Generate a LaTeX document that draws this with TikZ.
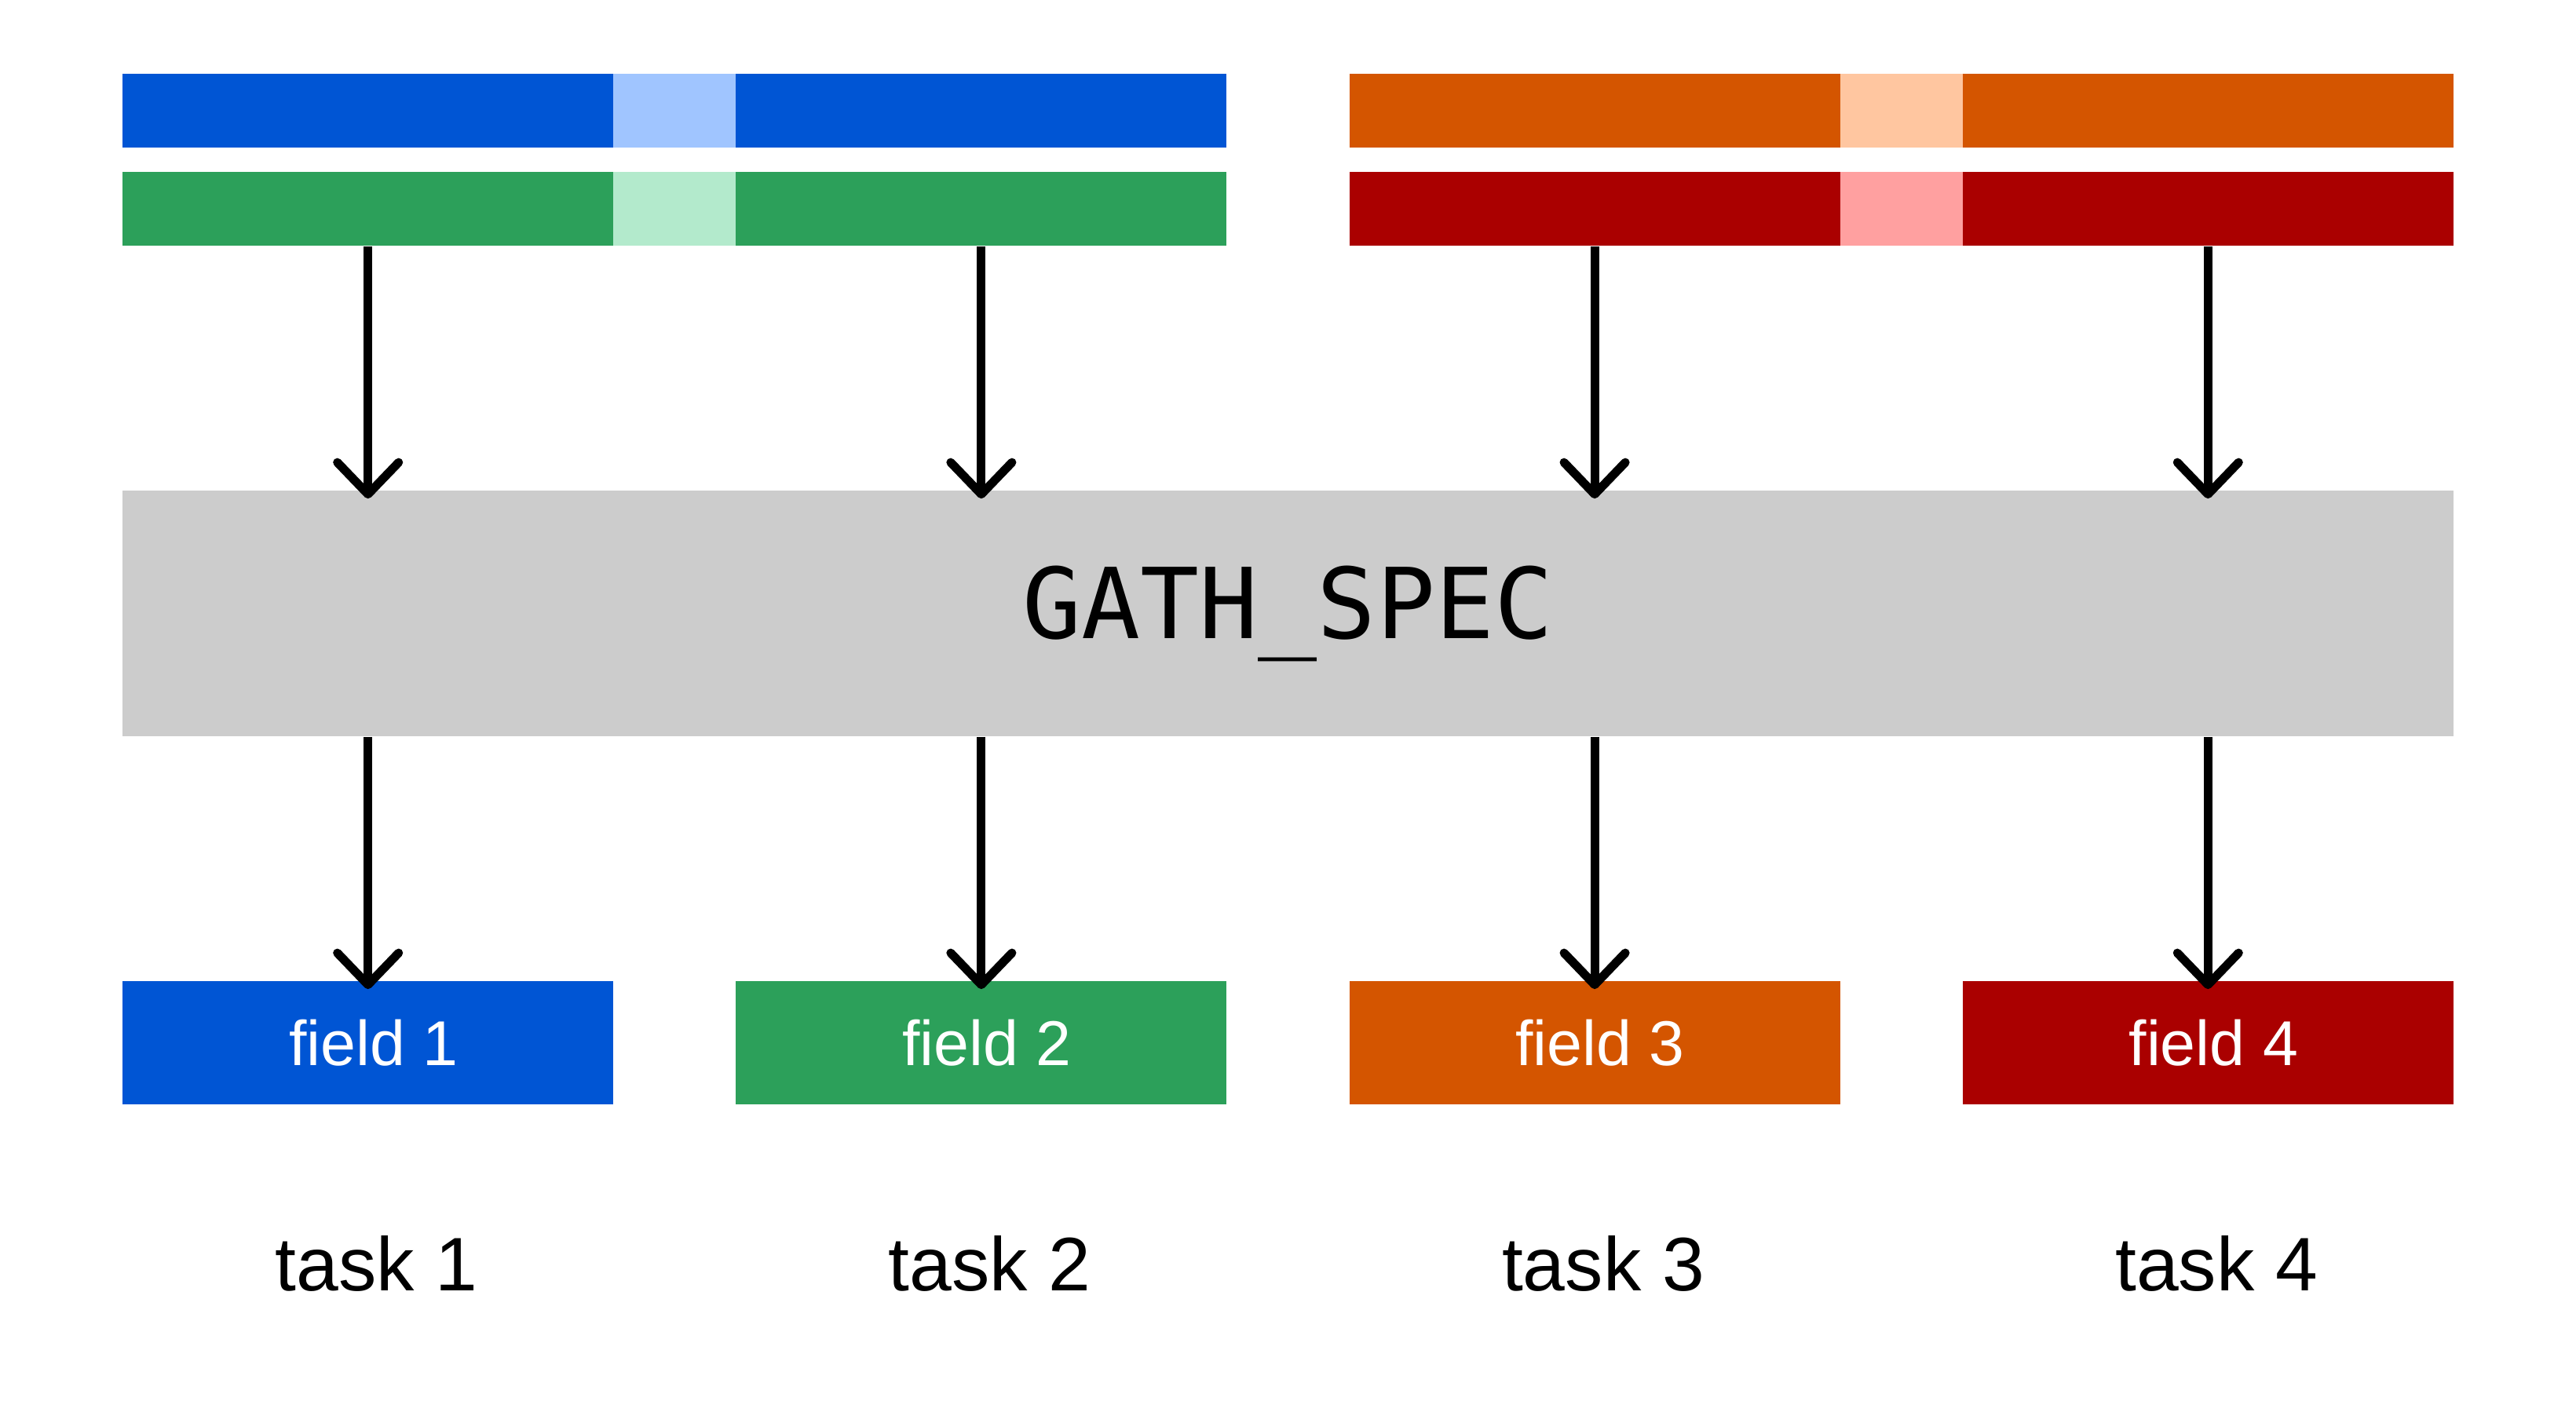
\documentclass[tikz,border=0pt]{standalone}
\usepackage{fontspec}
\setmainfont{Liberation Sans}
\setmonofont{DejaVu Sans Mono}
\usetikzlibrary{arrows.meta}

\definecolor{fblue}{HTML}{0055D4}
\definecolor{fbluelight}{HTML}{A0C5FF}
\definecolor{fgreen}{HTML}{2CA05A}
\definecolor{fgreenlight}{HTML}{B3EACC}
\definecolor{forange}{HTML}{D45500}
\definecolor{forangelight}{HTML}{FFC6A0}
\definecolor{fred}{HTML}{AA0000}
\definecolor{fredlight}{HTML}{FFA0A0}
\definecolor{specgray}{HTML}{CCCCCC}

\begin{document}
\begin{tikzpicture}
    % Define node styles
    \tikzstyle{segnode}=[rectangle, inner sep=0pt, minimum width=4cm, minimum height=0.6cm]
    \tikzstyle{gapnode}=[rectangle, inner sep=0pt, minimum width=1cm, minimum height=0.6cm]
    \tikzstyle{specnode}=[rectangle, fill=specgray, inner sep=0pt, minimum width=19cm, minimum height=2cm, font=\fontsize{22.7}{27}\selectfont\ttfamily]
    \tikzstyle{fieldnode}=[rectangle, inner sep=0pt, minimum width=4cm, minimum height=1cm, text=white, font=\fontsize{14.7}{18}\selectfont]
    \tikzstyle{tasknode}=[anchor=base, xshift=0.07cm, font=\fontsize{17.6}{22}\selectfont]
    \tikzstyle{arr}=[-{Straight Barb[length=0.26cm, width=0.5cm, round]}, line width=2pt, shorten >=-0.07cm]

    \useasboundingbox (0,0) rectangle (21,11.603);

    % Top left: blue and green buffers
    \node[segnode, fill=fblue] (blueA) at (3, 10.7) {};
    \node[gapnode, fill=fbluelight] (blueM) at (5.5, 10.7) {};
    \node[segnode, fill=fblue] (blueB) at (8, 10.7) {};

    \node[segnode, fill=fgreen] (greenA) at (3, 9.9) {};
    \node[gapnode, fill=fgreenlight] (greenM) at (5.5, 9.9) {};
    \node[segnode, fill=fgreen] (greenB) at (8, 9.9) {};

    % Top right: orange and red buffers
    \node[segnode, fill=forange] (orangeA) at (13, 10.7) {};
    \node[gapnode, fill=forangelight] (orangeM) at (15.5, 10.7) {};
    \node[segnode, fill=forange] (orangeB) at (18, 10.7) {};

    \node[segnode, fill=fred] (redA) at (13, 9.9) {};
    \node[gapnode, fill=fredlight] (redM) at (15.5, 9.9) {};
    \node[segnode, fill=fred] (redB) at (18, 9.9) {};

    % Middle: gather spec
    \node[specnode] (gath) at (10.5, 6.6) {GATH\_SPEC};

    % Bottom: fields
    \node[fieldnode, fill=fblue] (field1) at (3, 3.1) {\hspace{0.09cm}field 1};
    \node[fieldnode, fill=fgreen] (field2) at (8, 3.1) {\hspace{0.09cm}field 2};
    \node[fieldnode, fill=forange] (field3) at (13, 3.1) {\hspace{0.09cm}field 3};
    \node[fieldnode, fill=fred] (field4) at (18, 3.1) {\hspace{0.09cm}field 4};

    % Task labels
    \node[tasknode] (task1) at (3, 1.08) {task 1};
    \node[tasknode] (task2) at (8, 1.08) {task 2};
    \node[tasknode] (task3) at (13, 1.08) {task 3};
    \node[tasknode] (task4) at (18, 1.08) {task 4};

    % Arrows into the spec
    \draw[arr] (greenA.south) -- (greenA.south |- gath.north);
    \draw[arr] (greenB.south) -- (greenB.south |- gath.north);
    \draw[arr] (redA.south) -- (redA.south |- gath.north);
    \draw[arr] (redB.south) -- (redB.south |- gath.north);

    % Arrows out of the spec
    \draw[arr] (field1.north |- gath.south) -- (field1.north);
    \draw[arr] (field2.north |- gath.south) -- (field2.north);
    \draw[arr] (field3.north |- gath.south) -- (field3.north);
    \draw[arr] (field4.north |- gath.south) -- (field4.north);

\end{tikzpicture}
\end{document}
